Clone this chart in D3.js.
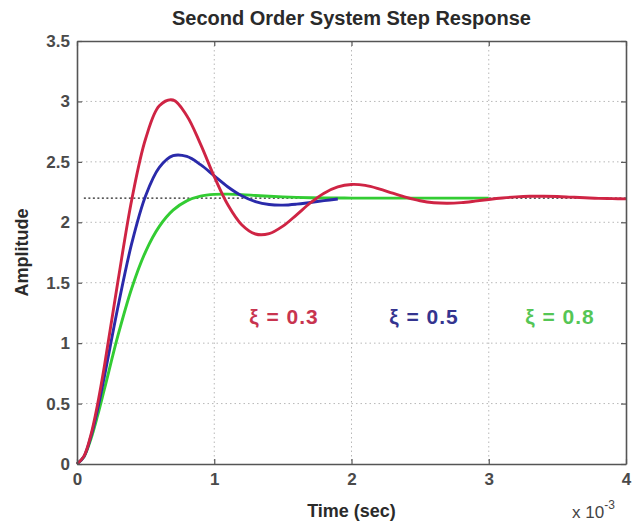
<!DOCTYPE html>
<html>
<head>
<meta charset="utf-8">
<script src="https://cdn.jsdelivr.net/npm/d3@7"></script>
<style>
  body { margin: 0; background: #fff; }
  svg { display: block; font-family: "Liberation Sans", Arial, sans-serif; }
  .grid line { stroke: #b8b8b8; stroke-dasharray: 1.5 3; }
  .tick-lbl { fill: #4a4a4a; font-size: 17px; font-weight: bold; }
</style>
</head>
<body>
<div class="chart"></div>
<script>
// Time axis (ms, shown as x 10^-3 sec)
const timeMs = [0, 0.05, 0.1, 0.15, 0.2, 0.3, 0.4, 0.5, 0.6, 0.7, 0.8, 0.9, 1.0,
  1.1, 1.2, 1.3, 1.4, 1.5, 1.6, 1.7, 1.8, 1.9, 2.0, 2.1, 2.2, 2.3, 2.4, 2.5,
  2.6, 2.7, 2.8, 2.9, 3.0, 3.1, 3.2, 3.3, 3.4, 3.5, 3.6, 3.7, 3.8, 3.9, 4.0];

// Amplitude per damping ratio
const zeta03 = [0, 0.063, 0.235, 0.494, 0.812, 1.524, 2.193, 2.691, 2.964, 3.012,
  2.882, 2.647, 2.378, 2.143, 1.980, 1.903, 1.906, 1.968, 2.062, 2.160, 2.241,
  2.293, 2.313, 2.305, 2.277, 2.241, 2.206, 2.178, 2.162, 2.158, 2.163, 2.175,
  2.189, 2.201, 2.210, 2.215, 2.215, 2.213, 2.208, 2.203, 2.198, 2.196, 2.194];
const zeta05 = [0, 0.061, 0.222, 0.452, 0.726, 1.309, 1.831, 2.220, 2.454, 2.551,
  2.545, 2.477, 2.384, 2.292, 2.219, 2.171, 2.147, 2.142, 2.150, 2.164, 2.179, 2.193];
const zeta08 = [0, 0.058, 0.203, 0.400, 0.621, 1.070, 1.459, 1.758, 1.966, 2.100,
  2.177, 2.216, 2.231, 2.233, 2.229, 2.222, 2.215, 2.210, 2.206, 2.203, 2.201,
  2.201, 2.200, 2.200, 2.200, 2.200, 2.200, 2.200, 2.200, 2.200, 2.200, 2.200, 2.200];

const finalValue = 2.2;
const xTicks = [0, 1, 2, 3, 4];
const yTicks = [0, 0.5, 1, 1.5, 2, 2.5, 3, 3.5];
const seriesNames = ['\u03BE = 0.3', '\u03BE = 0.5', '\u03BE = 0.8'];
const seriesColors = ['#cf2444', '#2a2aaa', '#33cc33'];
const labelColors = ['#c8344f', '#34348f', '#55c655'];
const labelX = [284, 424, 560];

// Dimensions
const W = 632, H = 524;
const margin = {top: 41, right: 6, bottom: 60, left: 77};
const width = W - margin.left - margin.right;
const height = H - margin.top - margin.bottom;

const x = d3.scaleLinear().domain([0, 4]).range([0, width]);
const y = d3.scaleLinear().domain([0, 3.5]).range([height, 0]);

const svg = d3.select('.chart').append('svg')
  .attr('width', W).attr('height', H);

const g = svg.append('g')
  .attr('transform', `translate(${margin.left}, ${margin.top})`);

// Grid
const grid = g.append('g').attr('class', 'grid');
grid.selectAll('.gx').data(xTicks.slice(1, -1)).join('line')
  .attr('x1', d => x(d)).attr('x2', d => x(d))
  .attr('y1', 0).attr('y2', height);
grid.selectAll('.gy').data(yTicks.slice(1, -1)).join('line')
  .attr('x1', 0).attr('x2', width)
  .attr('y1', d => y(d)).attr('y2', d => y(d));

// Steady state line
g.append('line')
  .attr('x1', x(0.05)).attr('x2', x(4))
  .attr('y1', y(finalValue)).attr('y2', y(finalValue))
  .attr('stroke', '#222').attr('stroke-width', 1.3)
  .attr('stroke-dasharray', '2 2.5');

// Curves
const line = d3.line()
  .x((d, i) => x(timeMs[i]))
  .y(d => y(d))
  .curve(d3.curveCatmullRom.alpha(0.5));

[zeta08, zeta05, zeta03].forEach((vals, k) => {
  const idx = 2 - k;
  g.append('path')
    .datum(vals)
    .attr('fill', 'none')
    .attr('stroke', seriesColors[idx])
    .attr('stroke-width', 2.9)
    .attr('stroke-linejoin', 'round')
    .attr('d', line);
});

// Axes (MATLAB style box, inward ticks)
const xAxis = d3.axisBottom(x).tickValues(xTicks).tickSizeInner(-5).tickSizeOuter(0).tickPadding(12)
  .tickFormat(d3.format('d'));
const yAxis = d3.axisLeft(y).tickValues(yTicks).tickSizeInner(-5).tickSizeOuter(0).tickPadding(7)
  .tickFormat(d3.format('~g'));

const xg = g.append('g').attr('transform', `translate(0, ${height})`).call(xAxis);
const yg = g.append('g').call(yAxis);
g.append('g').call(d3.axisTop(x).tickValues(xTicks).tickSizeInner(-5).tickSizeOuter(0).tickFormat(''));
g.append('g').attr('transform', `translate(${width}, 0)`)
  .call(d3.axisRight(y).tickValues(yTicks).tickSizeInner(-5).tickSizeOuter(0).tickFormat(''));

g.selectAll('.domain').attr('stroke', '#555').attr('stroke-width', 1.6);
g.selectAll('.tick line').attr('stroke', '#555').attr('stroke-width', 1.2);
g.selectAll('.tick text').attr('class', 'tick-lbl').attr('font-family', null).attr('font-size', null);
xg.selectAll('.tick text').attr('dy', '0.5em');

// Title and labels
svg.append('text')
  .attr('x', margin.left + width / 2).attr('y', 25)
  .attr('text-anchor', 'middle')
  .style('font-size', '20px').style('font-weight', 'bold').style('fill', '#2a2a2a')
  .text('Second Order System Step Response');

svg.append('text')
  .attr('transform', `translate(28, ${margin.top + height / 2}) rotate(-90)`)
  .attr('text-anchor', 'middle')
  .style('font-size', '18px').style('font-weight', 'bold').style('fill', '#2a2a2a')
  .text('Amplitude');

svg.append('text')
  .attr('x', margin.left + width / 2).attr('y', 517)
  .attr('text-anchor', 'middle')
  .style('font-size', '18px').style('font-weight', 'bold').style('fill', '#2a2a2a')
  .text('Time (sec)');

const expo = svg.append('text')
  .attr('x', 572).attr('y', 518)
  .style('font-size', '17px').style('fill', '#444');
expo.append('tspan').text('x 10');
expo.append('tspan').attr('dy', -9).style('font-size', '12px').text('-3');

// Damping ratio annotations
g.selectAll('.zlabel').data(seriesNames).join('text')
  .attr('x', (d, i) => labelX[i] - margin.left)
  .attr('y', y(1.16))
  .attr('text-anchor', 'middle')
  .style('font-size', '21px').style('font-weight', 'bold')
  .style('letter-spacing', '1px')
  .style('fill', (d, i) => labelColors[i])
  .text(d => d);
</script>
</body>
</html>
